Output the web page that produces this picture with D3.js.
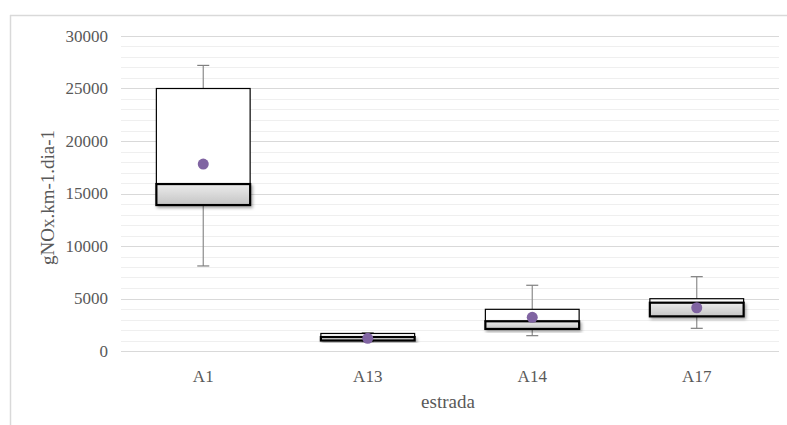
<!DOCTYPE html>
<html>
<head>
<meta charset="utf-8">
<script src="https://cdn.jsdelivr.net/npm/d3@7"></script>
<style>
  body { margin: 0; background: #fff; }
  svg text { font-family: "Liberation Serif", serif !important; }
</style>
</head>
<body>
<div id="chart"></div>
<script>
// data
var categories = ["A1", "A13", "A14", "A17"];
var whiskerMin = [8100, 900, 1460, 2160];
var q1 = [13900, 1000, 2100, 3300];
var median = [15900, 1330, 2830, 4600];
var q3 = [25000, 1670, 3970, 4980];
var whiskerMax = [27200, 1750, 6260, 7080];
var mean = [17800, 1210, 3210, 4120];
var yTicks = [0, 5000, 10000, 15000, 20000, 25000, 30000];

var W = 787, H = 425;
var margin = {top: 36, right: 8, bottom: 74, left: 121};
var width = W - margin.left - margin.right,
    height = H - margin.top - margin.bottom;
var serif = "Liberation Serif, serif";

var svg = d3.select("#chart")
  .append("svg")
  .attr("width", W)
  .attr("height", H)
  .attr("font-family", serif);

// chart frame (only top and left edges visible in the original)
svg.append("line").attr("x1", 10).attr("x2", W).attr("y1", 15.5).attr("y2", 15.5)
  .attr("stroke", "#d9d9d9").attr("stroke-width", 1.5);
svg.append("line").attr("x1", 10.5).attr("x2", 10.5).attr("y1", 15).attr("y2", H)
  .attr("stroke", "#d9d9d9").attr("stroke-width", 1.5);

var defs = svg.append("defs");
var grad = defs.append("linearGradient").attr("id", "lowgrad")
  .attr("x1", 0).attr("y1", 0).attr("x2", 0).attr("y2", 1);
grad.append("stop").attr("offset", "0%").attr("stop-color", "#ececec");
grad.append("stop").attr("offset", "100%").attr("stop-color", "#c4c4c4");
var shadow = defs.append("filter").attr("id", "shadow")
  .attr("x", "-20%").attr("y", "-50%").attr("width", "140%").attr("height", "200%");
shadow.append("feDropShadow").attr("dx", 1.5).attr("dy", 2).attr("stdDeviation", 1.5)
  .attr("flood-color", "#000").attr("flood-opacity", 0.35);

var g = svg.append("g")
  .attr("transform", "translate(" + margin.left + "," + margin.top + ")");

var x = d3.scaleBand()
  .domain(categories)
  .range([0, width]);

var y = d3.scaleLinear()
  .domain([0, 30000])
  .range([height, 0]);

// minor gridlines
g.append("g")
  .selectAll("line")
  .data(d3.range(0, 30001, 1000).filter(function(v) { return v % 5000 !== 0; }))
  .enter()
  .append("line")
    .attr("x1", 0).attr("x2", width)
    .attr("y1", function(d) { return Math.round(y(d)) + 0.5; })
    .attr("y2", function(d) { return Math.round(y(d)) + 0.5; })
    .attr("stroke", "#efefef");

// major gridlines
g.append("g")
  .selectAll("line")
  .data(yTicks)
  .enter()
  .append("line")
    .attr("x1", 0).attr("x2", width)
    .attr("y1", function(d) { return Math.round(y(d)) + 0.5; })
    .attr("y2", function(d) { return Math.round(y(d)) + 0.5; })
    .attr("stroke", "#d9d9d9");

// y axis labels
var yAxis = g.append("g")
  .call(d3.axisLeft(y).tickValues(yTicks).tickFormat(d3.format("d")).tickSize(0).tickPadding(13));
yAxis.attr("font-family", serif).attr("font-size", 17);
yAxis.select(".domain").remove();
yAxis.selectAll("text")
  .attr("font-size", "17px")
  .attr("fill", "#595959");

// x axis labels
var xAxis = g.append("g")
  .attr("transform", "translate(0," + height + ")")
  .call(d3.axisBottom(x).tickSize(0).tickPadding(19));
xAxis.attr("font-family", serif).attr("font-size", 17);
xAxis.select(".domain").remove();
xAxis.selectAll("text")
  .attr("font-size", "17px")
  .attr("fill", "#595959");

// axis titles
svg.append("text")
  .attr("transform", "translate(54," + (margin.top + height / 2 + 4) + ") rotate(-90)")
  .attr("text-anchor", "middle")
  .attr("font-size", "19px")
  .attr("fill", "#595959")
  .text("gNOx.km-1.dia-1");

svg.append("text")
  .attr("x", 448)
  .attr("y", 408)
  .attr("text-anchor", "middle")
  .attr("font-size", "19px")
  .attr("fill", "#595959")
  .text("estrada");

// boxes
var boxW = x.bandwidth() * 0.57;
var boxes = g.selectAll(".box")
  .data(categories)
  .enter()
  .append("g")
  .attr("class", "box");

function cx(i) { return x(categories[i]) + x.bandwidth() / 2; }

// whiskers
boxes.append("line")
  .attr("x1", function(d, i) { return cx(i); })
  .attr("x2", function(d, i) { return cx(i); })
  .attr("y1", function(d, i) { return y(whiskerMax[i]); })
  .attr("y2", function(d, i) { return y(q3[i]); })
  .attr("stroke", "#8c8c8c").attr("stroke-width", 1.2);
boxes.append("line")
  .attr("x1", function(d, i) { return cx(i); })
  .attr("x2", function(d, i) { return cx(i); })
  .attr("y1", function(d, i) { return y(q1[i]); })
  .attr("y2", function(d, i) { return y(whiskerMin[i]); })
  .attr("stroke", "#8c8c8c").attr("stroke-width", 1.2);
boxes.append("line")
  .attr("x1", function(d, i) { return cx(i) - 6; })
  .attr("x2", function(d, i) { return cx(i) + 6; })
  .attr("y1", function(d, i) { return y(whiskerMax[i]); })
  .attr("y2", function(d, i) { return y(whiskerMax[i]); })
  .attr("stroke", "#7f7f7f").attr("stroke-width", 1.2);
boxes.append("line")
  .attr("x1", function(d, i) { return cx(i) - 6; })
  .attr("x2", function(d, i) { return cx(i) + 6; })
  .attr("y1", function(d, i) { return y(whiskerMin[i]); })
  .attr("y2", function(d, i) { return y(whiskerMin[i]); })
  .attr("stroke", "#7f7f7f").attr("stroke-width", 1.2);

// upper box (median to q3)
boxes.append("rect")
  .attr("x", function(d, i) { return cx(i) - boxW / 2; })
  .attr("y", function(d, i) { return y(q3[i]); })
  .attr("width", boxW)
  .attr("height", function(d, i) { return y(median[i]) - y(q3[i]); })
  .attr("fill", "#fff")
  .attr("stroke", "#000").attr("stroke-width", 1.2);

// lower box (q1 to median)
boxes.append("rect")
  .attr("x", function(d, i) { return cx(i) - boxW / 2; })
  .attr("y", function(d, i) { return y(median[i]); })
  .attr("width", boxW)
  .attr("height", function(d, i) { return y(q1[i]) - y(median[i]); })
  .attr("fill", "url(#lowgrad)")
  .attr("stroke", "#000").attr("stroke-width", 2.2)
  .attr("filter", "url(#shadow)");

// mean markers
boxes.append("circle")
  .attr("cx", function(d, i) { return cx(i); })
  .attr("cy", function(d, i) { return y(mean[i]); })
  .attr("r", 5.5)
  .attr("fill", "#8064a2");
</script>
</body>
</html>
